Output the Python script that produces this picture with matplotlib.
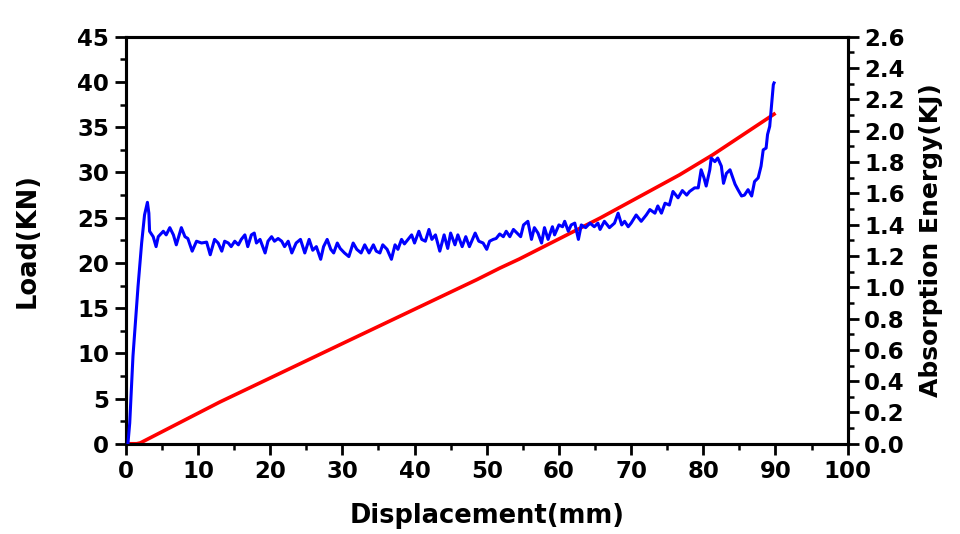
# Load / absorbed energy vs displacement

import matplotlib.pyplot as plt
from matplotlib.ticker import MultipleLocator

# load curve (mm, KN)
disp = [0.3, 0.55, 1.0, 1.7, 2.2, 2.6, 3.0, 3.2, 3.3, 3.8, 4.2, 4.5, 5.2, 5.6, 6.1, 6.6, 7.0, 7.7, 8.2, 8.6,
        9.2, 9.8, 10.5, 11.2, 11.7, 12.3, 12.8, 13.3, 13.7, 14.2, 14.6, 15.1, 15.6, 16.0, 16.5, 16.9, 17.4,
        17.8, 18.1, 18.6, 19.3, 19.7, 20.2, 20.6, 21.1, 21.6, 22.0, 22.5, 23.0, 23.6, 24.2, 24.8, 25.4, 25.9,
        26.4, 27.0, 27.4, 27.9, 28.4, 28.8, 29.3, 29.7, 30.3, 30.9, 31.5, 32.0, 32.6, 33.1, 33.7, 34.3, 34.7,
        35.2, 35.6, 36.2, 36.8, 37.3, 37.7, 38.2, 38.6, 39.1, 39.6, 40.0, 40.6, 41.0, 41.5, 42.0, 42.4, 42.9,
        43.5, 44.1, 44.6, 45.0, 45.6, 46.0, 46.6, 47.1, 47.6, 48.4, 48.9, 49.5, 50.0, 50.4, 50.9, 51.3, 51.8,
        52.3, 52.7, 53.2, 53.7, 54.2, 54.7, 55.1, 55.7, 56.2, 56.6, 57.1, 57.6, 58.0, 58.5, 59.1, 59.4, 60.0,
        60.5, 60.8, 61.3, 61.7, 62.2, 62.7, 63.1, 63.7, 64.3, 64.9, 65.4, 65.7, 66.3, 67.0, 67.7, 68.2, 68.7,
        69.1, 69.6, 70.0, 70.7, 71.4, 72.1, 72.6, 73.3, 73.7, 74.2, 74.7, 75.3, 75.8, 76.5, 77.1, 77.7, 78.1,
        78.8, 79.3, 79.7, 80.1, 80.4, 80.9, 81.1, 81.6, 82.0, 82.5, 82.8, 83.2, 83.7, 84.0, 84.4, 84.8, 85.3,
        85.7, 86.2, 86.7, 87.1, 87.6, 88.0, 88.3, 88.7, 88.9, 89.2, 89.4, 89.7, 89.8]
load = [0.0, 2.3, 9.7, 17.4, 22.2, 25.3, 26.7, 25.5, 23.5, 22.9, 21.8, 22.9, 23.5, 23.1, 23.9, 23.1, 22.0, 23.9, 22.9, 22.7,
        21.3, 22.4, 22.2, 22.3, 20.9, 22.6, 22.2, 21.3, 22.4, 22.2, 21.8, 22.4, 22.0, 22.6, 23.1, 21.8, 23.1,
        23.3, 22.2, 22.6, 21.1, 22.4, 22.9, 22.4, 22.7, 22.4, 21.8, 22.4, 21.1, 22.2, 22.6, 21.1, 22.6, 21.4,
        21.8, 20.4, 21.8, 22.6, 21.5, 21.1, 22.2, 21.6, 21.1, 20.7, 22.2, 21.5, 21.1, 22.0, 21.1, 22.0, 21.3,
        21.1, 22.0, 21.5, 20.4, 22.0, 21.5, 22.6, 22.1, 22.6, 23.1, 22.2, 23.5, 22.6, 22.4, 23.7, 22.6, 23.1,
        21.3, 23.1, 21.6, 23.3, 22.0, 23.1, 21.8, 22.9, 21.8, 23.3, 22.4, 22.2, 21.5, 22.4, 22.6, 22.7, 23.2,
        22.9, 23.5, 22.9, 23.7, 23.3, 22.9, 24.2, 24.6, 22.6, 23.9, 23.3, 22.2, 23.9, 22.6, 24.0, 23.1, 24.2,
        24.0, 24.6, 23.5, 24.2, 24.4, 22.6, 24.2, 23.9, 24.4, 24.0, 24.4, 23.7, 24.6, 23.9, 24.4, 25.5, 24.2,
        24.6, 24.0, 24.4, 25.3, 24.6, 25.3, 25.9, 25.5, 26.3, 25.5, 26.6, 26.4, 27.9, 27.2, 28.0, 27.5, 27.9,
        28.3, 28.3, 30.3, 29.4, 28.5, 30.3, 31.6, 31.2, 31.6, 30.7, 28.8, 29.9, 30.3, 29.6, 28.7, 28.1, 27.4,
        27.5, 28.1, 27.4, 29.0, 29.4, 30.7, 32.5, 32.7, 34.2, 35.1, 36.9, 39.7, 39.9]

# absorbed energy (mm, KJ)
e_disp = [0.0, 1.5, 2.0, 13.0, 30.0, 48.6, 51.8, 54.5, 65.7, 76.7, 81.3, 89.8]
energy = [0.0, 0.0, 0.005, 0.266, 0.64, 1.048, 1.122, 1.18, 1.442, 1.718, 1.846, 2.106]

plt.rcParams['font.family'] = 'DejaVu Sans'
plt.rcParams['font.weight'] = 'bold'

fig = plt.figure(figsize=(9.6, 5.34), dpi=100)
ax = fig.add_axes([0.131, 0.169, 0.752, 0.762])
ax2 = ax.twinx()

ax.plot(disp, load, color='#0000ff', lw=2.2, zorder=3)
ax2.plot(e_disp, energy, color='#ff0000', lw=2.6)
ax.set_zorder(ax2.get_zorder() + 1)
ax.patch.set_visible(False)

ax.set_xlim(0, 100)
ax.set_ylim(0, 45)
ax2.set_ylim(0, 2.6)

ax.xaxis.set_major_locator(MultipleLocator(10))
ax.xaxis.set_minor_locator(MultipleLocator(5))
ax.yaxis.set_major_locator(MultipleLocator(5))
ax.yaxis.set_minor_locator(MultipleLocator(2.5))
ax2.yaxis.set_major_locator(MultipleLocator(0.2))
ax2.yaxis.set_minor_locator(MultipleLocator(0.1))
ax2.yaxis.set_major_formatter(lambda v, p: '{:.1f}'.format(v))

for a in (ax, ax2):
    for s in a.spines.values():
        s.set_linewidth(2.2)
    a.tick_params(which='major', length=8, width=2, labelsize=16.5, pad=4)
    a.tick_params(which='minor', length=4.5, width=1.8)

ax.set_xlabel('Displacement(mm)', fontsize=18.5, fontweight='bold', labelpad=14)
ax.set_ylabel('Load(KN)', fontsize=18.5, fontweight='bold', labelpad=26)
ax2.set_ylabel('Absorption Energy(KJ)', fontsize=18, fontweight='bold', labelpad=10)

plt.savefig('out.png', dpi=100)
